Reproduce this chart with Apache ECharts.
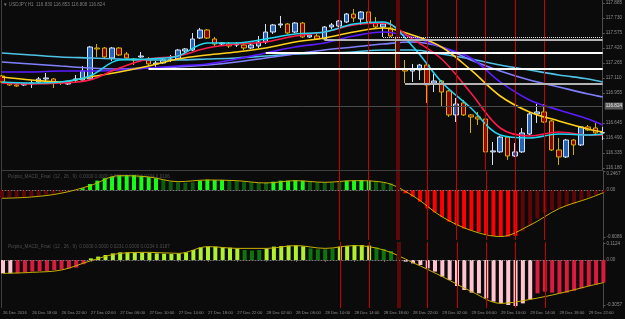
<!DOCTYPE html>
<html>
<head>
<meta charset="utf-8">
<script src="https://cdn.jsdelivr.net/npm/echarts@6/dist/echarts.min.js"></script>
<style>
  html, body { margin: 0; padding: 0; background: #0b0b0b; }
  #chart { width: 625px; height: 319px; }
</style>
</head>
<body>
<div id="chart"></div>
<script>
// hourly bars, 26 Dec 14:00 .. 30 Dec 00:00
const times = [];
for (let i = 0; i < 83; i++) {
  const h = 14 + i;
  times.push((26 + Math.floor(h / 24)) + " Dec " + String(h % 24).padStart(2, "0") + ":00");
}

// [open, close, low, high]
const candles = [
  [117.131,117.069,117.058,117.141],[117.058,117.038,117.027,117.069],[117.038,117.027,117.017,117.058],
  [117.038,117.048,117.027,117.058],[117.048,117.058,117.007,117.089],[117.069,117.100,117.058,117.120],
  [117.100,117.110,117.069,117.162],[117.100,117.069,117.007,117.110],[117.069,117.058,117.038,117.079],
  [117.048,117.058,117.038,117.069],[117.089,117.100,117.058,117.141],[117.089,117.182,117.079,117.234],
  [117.100,117.430,117.089,117.441],[117.420,117.410,117.327,117.461],[117.420,117.327,117.317,117.430],
  [117.317,117.420,117.286,117.430],[117.420,117.348,117.337,117.430],[117.358,117.317,117.296,117.379],
  [117.306,117.296,117.244,117.317],[117.327,117.337,117.317,117.379],[117.306,117.255,117.234,117.327],
  [117.255,117.265,117.224,117.286],[117.265,117.296,117.255,117.317],[117.296,117.306,117.275,117.348],
  [117.306,117.399,117.296,117.410],[117.389,117.410,117.348,117.420],[117.399,117.513,117.389,117.575],
  [117.523,117.606,117.513,117.627],[117.606,117.523,117.513,117.616],[117.513,117.461,117.441,117.534],
  [117.461,117.472,117.451,117.482],[117.461,117.441,117.420,117.482],[117.451,117.461,117.430,117.482],
  [117.451,117.420,117.399,117.472],[117.420,117.451,117.410,117.472],[117.441,117.482,117.420,117.544],
  [117.482,117.585,117.461,117.668],[117.585,117.658,117.565,117.668],[117.658,117.668,117.627,117.751],
  [117.668,117.575,117.565,117.678],[117.585,117.678,117.575,117.689],[117.678,117.534,117.523,117.689],
  [117.534,117.554,117.523,117.565],[117.544,117.513,117.503,117.565],[117.513,117.637,117.503,117.647],
  [117.637,117.658,117.616,117.678],[117.647,117.699,117.637,117.709],[117.689,117.771,117.678,117.782],
  [117.771,117.730,117.689,117.823],[117.720,117.792,117.658,117.802],[117.792,117.689,117.678,117.802],
  [117.678,117.637,117.627,117.740],[117.637,117.668,117.534,117.678],[117.627,117.544,117.534,117.709],
  [117.534,117.213,117.203,117.606],[117.203,117.182,117.058,117.296],[117.182,117.203,117.069,117.255],
  [117.193,117.244,117.089,117.255],[117.244,117.038,116.852,117.255],[117.058,117.079,116.965,117.151],
  [117.079,116.965,116.821,117.089],[116.976,116.728,116.707,116.986],[116.728,116.841,116.655,116.903],
  [116.852,116.728,116.717,116.883],[116.728,116.707,116.542,116.738],[116.707,116.686,116.624,116.759],
  [116.686,116.346,116.294,116.697],[116.346,116.356,116.211,116.449],[116.346,116.500,116.335,116.511],
  [116.500,116.304,116.263,116.511],[116.304,116.346,116.294,116.438],[116.346,116.542,116.335,116.593],
  [116.531,116.738,116.521,116.759],[116.738,116.759,116.645,116.841],[116.759,116.655,116.645,116.841],
  [116.666,116.366,116.356,116.676],[116.366,116.294,116.211,116.490],[116.294,116.469,116.283,116.480],
  [116.469,116.418,116.314,116.480],[116.418,116.604,116.407,116.614],[116.604,116.573,116.562,116.624],
  [116.593,116.542,116.531,116.645],[116.542,116.545,116.469,116.604]
];

// moving averages, read every 4 bars
const maBars   = [0,4,8,12,16,20,24,28,32,36,40,44,48,52,56,60,64,68,72,76,80,82];
const maCyan   = [117.069,117.058,117.069,117.131,117.296,117.306,117.337,117.472,117.472,117.513,117.565,117.585,117.668,117.689,117.441,117.069,116.800,116.521,116.490,116.531,116.521,116.531];
const maRed    = [117.058,117.048,117.058,117.089,117.213,117.306,117.337,117.420,117.461,117.482,117.544,117.585,117.658,117.678,117.513,117.306,116.955,116.593,116.511,116.552,116.521,116.521];
const maYellow = [117.120,117.089,117.069,117.120,117.172,117.234,117.306,117.348,117.379,117.420,117.482,117.523,117.585,117.627,117.554,117.430,117.193,116.924,116.759,116.666,116.583,116.552];
const maPurple = [117.172,117.172,117.182,117.182,117.193,117.213,117.234,117.255,117.306,117.368,117.430,117.472,117.544,117.585,117.534,117.430,117.317,117.069,116.883,116.779,116.686,116.624];
const maSky    = [117.368,117.348,117.327,117.317,117.306,117.296,117.296,117.306,117.317,117.337,117.358,117.368,117.379,117.399,117.399,117.358,117.306,117.244,117.193,117.141,117.100,117.069];
const maLav    = [117.275,117.255,117.234,117.213,117.203,117.213,117.224,117.244,117.275,117.317,117.358,117.399,117.430,117.461,117.482,117.430,117.296,117.182,117.089,117.017,116.945,116.914];

// horizontal objects: [price, first bar, kind]
const levels = [[117.531, 52, "dot"], [117.508, 44, "gray"], [117.368, 36, "white"], [117.203, 20, "white"], [117.053, 55, "gray"]];
const bidPrice = 116.824;
const markBars = [46, 50, 54, 58, 62, 66, 70, 74];

const priceTicks = [116.180,116.335,116.490,116.645,116.955,117.110,117.265,117.420,117.575,117.730,117.885];

// first MACD window
const macd1 = [
  -0.108,-0.100,-0.095,-0.091,-0.087,-0.078,-0.061,-0.048,-0.035,-0.022,
  -0.013,0.022,0.078,0.121,0.153,0.173,0.186,0.192,0.192,0.183,
  0.166,0.153,0.130,0.108,0.100,0.095,0.100,0.121,0.134,0.130,
  0.130,0.121,0.117,0.108,0.100,0.091,0.100,0.108,0.121,0.121,
  0.126,0.121,0.108,0.100,0.100,0.100,0.108,0.121,0.121,0.130,
  0.121,0.117,0.100,0.087,0.039,-0.043,-0.087,-0.152,-0.239,-0.291,
  -0.348,-0.413,-0.456,-0.500,-0.526,-0.544,-0.578,-0.596,-0.604,-0.604,
  -0.596,-0.535,-0.456,-0.369,-0.296,-0.261,-0.239,-0.213,-0.183,-0.143,
  -0.100,-0.065,-0.035
];
const shade1 = "ddddddddddd" + "GGGGGGGGGGG" + "ggggg" + "GGGG" + "gggggg" + "GGGGG" + "ggggg" + "GGGG" + "gggg" +
  "RRRRRRRRRRRRRRRR" + "dddddddddddd";
const sig1 = [-0.108,-0.091,-0.043,0.056,0.186,0.170,0.108,0.130,0.121,0.091,0.121,0.100,0.121,0.100,-0.074,-0.348,-0.526,-0.604,-0.456,-0.239,-0.108,-0.035];
const ticks1 = [0.2467, 0, -0.6086];

// second MACD window
const macd2 = [
  -0.091,-0.091,-0.091,-0.086,-0.079,-0.075,-0.075,-0.068,-0.064,-0.057,
  -0.052,-0.029,0.011,0.023,0.034,0.045,0.052,0.052,0.052,0.050,
  0.050,0.045,0.043,0.041,0.045,0.052,0.068,0.086,0.091,0.091,
  0.086,0.084,0.079,0.068,0.064,0.068,0.079,0.091,0.095,0.098,
  0.098,0.093,0.079,0.073,0.073,0.079,0.091,0.095,0.102,0.102,
  0.098,0.086,0.075,0.061,0.023,-0.011,-0.023,-0.034,-0.057,-0.079,
  -0.113,-0.136,-0.177,-0.204,-0.222,-0.227,-0.261,-0.283,-0.295,-0.306,
  -0.313,-0.295,-0.268,-0.227,-0.215,-0.222,-0.227,-0.222,-0.209,-0.193,
  -0.177,-0.166,-0.154
];
const shade2 = "pp" + "cccccccccc" + "YYYYYYYYYYYYYYYYYYYYY" + "DDD" + "YYYYYY" + "DDDD" + "YYYYY" + "DDDD" +
  "pppppppppppppppppp" + "cccccccccc";
const sig2 = [-0.091,-0.084,-0.068,-0.005,0.045,0.052,0.045,0.091,0.079,0.079,0.098,0.079,0.098,0.068,-0.018,-0.113,-0.215,-0.295,-0.268,-0.227,-0.177,-0.154];
const ticks2 = [0.1124, 0, -0.3057];

const shadeColors = {
  d: "#5e0606", R: "#ff0000", G: "#14ff14", g: "#0d5c0d",
  p: "#ffc4d0", c: "#dc1a3e", Y: "#b0f02c", D: "#0b760b"
};
const levelColors = { dot: "#e8e8e8", gray: "#b4b4b4", white: "#ffffff" };
const txt = "#8e8e8e";
const font = "Liberation Sans";

const pts = (arr) => maBars.map((b, i) => [b, arr[i]]);
const maLine = (name, arr, color, width) => ({
  name, type: "line", data: pts(arr), smooth: 0.35, showSymbol: false, z: 4,
  lineStyle: { color, width }, silent: true
});
const vLines = (idx) => ({
  type: "line", data: [], xAxisIndex: idx, yAxisIndex: idx, z: 1, silent: true,
  markLine: {
    symbol: ["none", "none"], silent: true, label: { show: false },
    data: markBars.map((b) => ({
      xAxis: b,
      lineStyle: b === 54 ? { color: "#5a0808", width: 4, type: "solid" } : { color: "#c80000", width: 1, type: "solid" }
    }))
  }
});
const fmtTick = (v) => (v === 0 ? "0.00" : v.toFixed(4));

let chart = echarts.init(document.getElementById("chart"));
let option = {
  backgroundColor: "#0b0b0b",
  animation: false,
  textStyle: { fontFamily: font },
  grid: [
    { left: 2, right: 19, top: 0, height: 170 },
    { left: 2, right: 19, top: 171, height: 69 },
    { left: 2, right: 19, top: 242, height: 66 }
  ],
  xAxis: [0, 1, 2].map((i) => ({
    type: "category", gridIndex: i, data: times, boundaryGap: false,
    axisLine: { show: true, lineStyle: { color: "#3f3f3f", width: 1 } },
    axisTick: i === 2 ? { show: true, interval: 3, length: 2, lineStyle: { color: "#6a6a6a" } } : { show: false },
    axisLabel: i === 2 ? {
      show: true, interval: 3, align: "left", margin: 3, fontSize: 4.2, color: txt,
      formatter: (v, idx) => (idx === 0 ? "26 Dec 2016" : v)
    } : { show: false },
    splitLine: { show: false }
  })),
  yAxis: [
    {
      gridIndex: 0, type: "value", position: "right", min: 116.159, max: 117.916,
      axisLine: { show: true, lineStyle: { color: "#4a4a4a" } },
      axisTick: { show: true, length: 2, customValues: priceTicks, lineStyle: { color: "#5a5a5a" } },
      axisLabel: { customValues: priceTicks, fontSize: 4.6, color: txt, margin: 3, formatter: (v) => v.toFixed(3) },
      splitLine: { show: false }
    },
    {
      gridIndex: 1, type: "value", position: "right", min: -0.649, max: 0.2467,
      axisLine: { show: true, lineStyle: { color: "#4a4a4a" } },
      axisTick: { show: true, length: 2, customValues: ticks1, lineStyle: { color: "#5a5a5a" } },
      axisLabel: {
        customValues: ticks1, fontSize: 4.6, color: txt, margin: 3,
        formatter: (v) => (v === 0.2467 ? "{t|0.2467}" : fmtTick(v)),
        rich: { t: { fontSize: 4.6, color: txt, padding: [6, 0, 0, 0] } }
      },
      splitLine: { show: false }
    },
    {
      gridIndex: 2, type: "value", position: "right", min: -0.3265, max: 0.1224,
      axisLine: { show: true, lineStyle: { color: "#4a4a4a" } },
      axisTick: { show: true, length: 2, customValues: ticks2, lineStyle: { color: "#5a5a5a" } },
      axisLabel: { customValues: ticks2, fontSize: 4.6, color: txt, margin: 3, formatter: fmtTick },
      splitLine: { show: false }
    }
  ],
  graphic: [
    { type: "line", shape: { x1: 1.5, y1: 0, x2: 1.5, y2: 308 }, style: { stroke: "#3f3f3f", lineWidth: 1 }, silent: true },
    { type: "text", left: 3, top: 2, silent: true,
      style: { text: "▼ USDJPY,H1  116.830 116.853 116.808 116.824", fill: "#7c7c7c", font: "4.6px " + font } },
    { type: "text", left: 8, top: 174, silent: true,
      style: { text: "Pulpito_MACD_Final  (12 , 26 , 9)  0.0000 0.0000 0.0234 0.0000 0.0234 0.0106", fill: "#4e4e4e", font: "4.6px " + font } },
    { type: "text", left: 8, top: 244, silent: true,
      style: { text: "Pulpito_MACD_Final  (12 , 26 , 9)  0.0000 0.0000 0.0231 0.0000 0.0234 0.0187", fill: "#4e4e4e", font: "4.6px " + font } }
  ],
  series: [
    vLines(0), vLines(1), vLines(2),
    {
      name: "levels", type: "line", data: [], z: 2, silent: true,
      markLine: {
        symbol: ["none", "none"], silent: true,
        data: levels.map(([p, b, kind]) => [
          { coord: [b, p], lineStyle: { color: levelColors[kind], width: kind === "dot" ? 1 : 2, type: kind === "dot" ? "dotted" : "solid" }, label: { show: false } },
          { coord: [82, p] }
        ]).concat([{
          yAxis: bidPrice,
          lineStyle: { color: "#4a4a4a", width: 1, type: "solid" },
          label: {
            show: true, position: "end", distance: 2, formatter: "116.824", fontSize: 4.6,
            color: "#e6e6e6", backgroundColor: "#5c5c5c", padding: [1, 1]
          }
        }])
      }
    },
    {
      name: "USDJPY,H1", type: "candlestick", data: candles, barWidth: 5, z: 3, silent: true,
      itemStyle: { color: "#2562b4", color0: "#8a0000", borderColor: "#d7e3f4", borderColor0: "#d4b000", borderWidth: 1 }
    },
    maLine("sky", maSky, "#4fc2e6", 1.6),
    maLine("lavender", maLav, "#8080ff", 1.6),
    maLine("purple", maPurple, "#5b1cff", 1.6),
    maLine("yellow", maYellow, "#ffd11a", 1.6),
    maLine("red", maRed, "#ff1a4a", 1.6),
    maLine("cyan", maCyan, "#20d8f2", 1.6),
    {
      name: "macd1", type: "bar", xAxisIndex: 1, yAxisIndex: 1, barWidth: 4, z: 2, silent: true,
      data: macd1.map((v, i) => ({ value: v, itemStyle: { color: shadeColors[shade1[i]] } })),
      markLine: {
        symbol: ["none", "none"], silent: true, label: { show: false },
        data: [{ yAxis: 0, lineStyle: { color: "#7a7a7a", width: 1, type: [1, 2] } }]
      }
    },
    {
      name: "sig1", type: "line", xAxisIndex: 1, yAxisIndex: 1, data: pts(sig1), smooth: 0.35,
      showSymbol: false, z: 3, silent: true, lineStyle: { color: "#c6b000", width: 1 }
    },
    {
      name: "macd2", type: "bar", xAxisIndex: 2, yAxisIndex: 2, barWidth: 4, z: 2, silent: true,
      data: macd2.map((v, i) => ({ value: v, itemStyle: { color: shadeColors[shade2[i]] } })),
      markLine: {
        symbol: ["none", "none"], silent: true, label: { show: false },
        data: [{ yAxis: 0, lineStyle: { color: "#7a7a7a", width: 1, type: [1, 2] } }]
      }
    },
    {
      name: "sig2", type: "line", xAxisIndex: 2, yAxisIndex: 2, data: pts(sig2), smooth: 0.35,
      showSymbol: false, z: 3, silent: true, lineStyle: { color: "#c6b000", width: 1 }
    }
  ]
};
chart.setOption(option);
</script>
</body>
</html>
